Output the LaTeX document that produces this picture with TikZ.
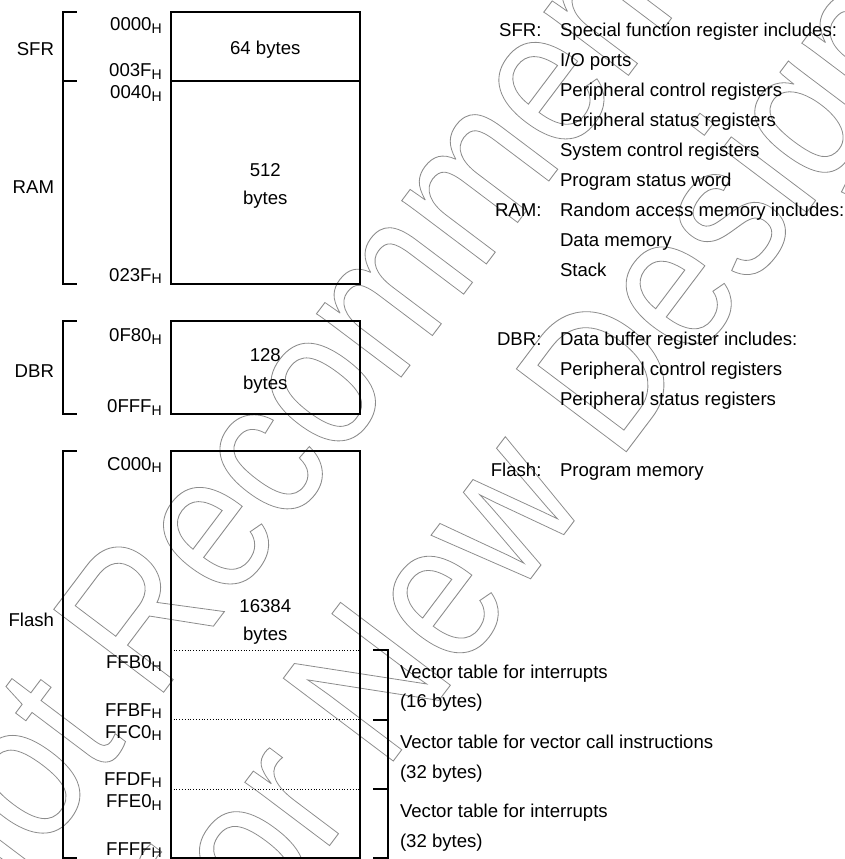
\documentclass[tikz,border=0pt]{standalone}
\usepackage{fontspec}
\setmainfont{Liberation Sans}
\newcommand\hsub{\raisebox{-2.7pt}{\fontsize{14}{14}\selectfont H}}
\newcommand\outl[1]{\scalebox{0.85}[1]{\special{pdf:code 1 Tr 0.9 w}#1\special{pdf:code 0 Tr}}}
\begin{document}
\begin{tikzpicture}[x=1pt,y=-1pt,
  every node/.style={inner sep=0pt,outer sep=0pt,font=\fontsize{18.6}{22}\selectfont},
  addr/.style={anchor=base east},
  lft/.style={anchor=base east},
  txt/.style={anchor=base west},
  mid/.style={anchor=base},
  memline/.style={line width=1.8pt},
  divline/.style={dotted,line width=0.8pt},
  wmark/.style={rotate=53,anchor=base west,text=black!45,font=\fontsize{200}{216}\selectfont}]
\useasboundingbox (0,0) rectangle (845,859);
% watermark
\node[wmark] (wm1) at (-32.3,952.2) {\outl{Not Recommended}};
\node[wmark] (wm2) at (237.1,968.2) {\outl{for New Design}};
% SFR / RAM block
\draw[memline] (170.7,11.7) rectangle (360,284.3);
\draw[memline] (170.7,80.7) -- (360,80.7);
\draw[memline] (76.7,11.7) -- (63.3,11.7) -- (63.3,284.3) -- (76.7,284.3);
\draw[memline] (63.3,80.7) -- (76.7,80.7);
% DBR block
\draw[memline] (170.7,320.7) rectangle (360,414);
\draw[memline] (76.7,320.7) -- (63.3,320.7) -- (63.3,414) -- (76.7,414);
% Flash block
\draw[memline] (170.7,450.7) rectangle (360,857.7);
\draw[memline] (76.7,450.7) -- (63.3,450.7) -- (63.3,857.7) -- (76.7,857.7);
\draw[divline] (170.7,650.7) -- (360,650.7);
\draw[divline] (170.7,719.3) -- (360,719.3);
\draw[divline] (170.7,789.3) -- (360,789.3);
% vector bracket
\draw[memline] (373.3,650) -- (388.3,650) -- (388.3,858) -- (373.3,858);
\draw[memline] (373.3,720) -- (388.3,720);
\draw[memline] (373.3,789.3) -- (388.3,789.3);
% left labels
\node[lft] (lsfr) at (54,55.5) {SFR};
\node[lft] (lram) at (54,193.3) {RAM};
\node[lft] (ldbr) at (54,377.3) {DBR};
\node[lft] (lfl) at (54,626.7) {Flash};
% addresses
\node[addr] (a1) at (161.7,30.7) {0000\hsub};
\node[addr] (a2) at (161.7,76.7) {003F\hsub};
\node[addr] (a3) at (161.7,99) {0040\hsub};
\node[addr] (a4) at (161.7,281) {023F\hsub};
\node[addr] (a5) at (161.7,341.7) {0F80\hsub};
\node[addr] (a6) at (161.7,412.7) {0FFF\hsub};
\node[addr] (a7) at (161.7,470) {C000\hsub};
\node[addr] (a8) at (161.7,668.3) {FFB0\hsub};
\node[addr] (a9) at (161.7,716) {FFBF\hsub};
\node[addr] (a10) at (161.7,738) {FFC0\hsub};
\node[addr] (a11) at (161.7,785) {FFDF\hsub};
\node[addr] (a12) at (161.7,807.7) {FFE0\hsub};
\node[addr] (a13) at (161.7,855) {FFFF\hsub};
% sizes
\node[mid] (s1) at (265.3,55) {64 bytes};
\node[mid] (s2) at (265.3,176.7) {512};
\node[mid] (s3) at (265.3,204) {bytes};
\node[mid] (s4) at (265.3,361.7) {128};
\node[mid] (s5) at (265.3,389) {bytes};
\node[mid] (s6) at (265.3,612.3) {16384};
\node[mid] (s7) at (265.3,640.7) {bytes};
% right descriptions
\node[lft] (d1) at (541.5,36.7) {SFR:};
\node[txt] (t1) at (560,36.7) {Special function register includes:};
\node[txt] (t2) at (560,66.7) {I/O ports};
\node[txt] (t3) at (560,96.7) {Peripheral control registers};
\node[txt] (t4) at (560,126.7) {Peripheral status registers};
\node[txt] (t5) at (560,156.7) {System control registers};
\node[txt] (t6) at (560,186.7) {Program status word};
\node[lft] (d2) at (541.5,216.7) {RAM:};
\node[txt] (t7) at (560,216.7) {Random access memory includes:};
\node[txt] (t8) at (560,246.7) {Data memory};
\node[txt] (t9) at (560,276.7) {Stack};
\node[lft] (d3) at (541.5,345.7) {DBR:};
\node[txt] (t10) at (560,345.7) {Data buffer register includes:};
\node[txt] (t11) at (560,375.7) {Peripheral control registers};
\node[txt] (t12) at (560,405.7) {Peripheral status registers};
\node[lft] (d4) at (541.5,476) {Flash:};
\node[txt] (t13) at (560,476) {Program memory};
% vector tables
\node[txt] (v1) at (400,678.3) {Vector table for interrupts};
\node[txt] (v2) at (400,707.7) {(16 bytes)};
\node[txt] (v3) at (400,748.3) {Vector table for vector call instructions};
\node[txt] (v4) at (400,778) {(32 bytes)};
\node[txt] (v5) at (400,817.3) {Vector table for interrupts};
\node[txt] (v6) at (400,847) {(32 bytes)};
\end{tikzpicture}
\end{document}
